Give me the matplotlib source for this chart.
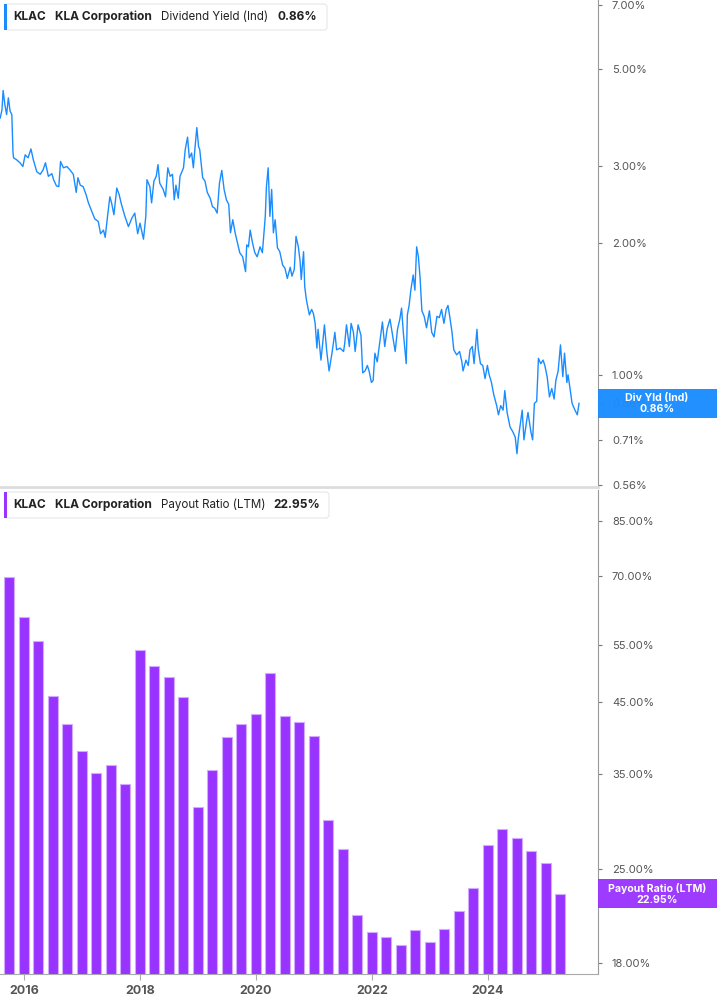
import matplotlib.pyplot as plt
import numpy as np
import pandas as pd
from matplotlib.patches import Rectangle, FancyBboxPatch
from matplotlib.ticker import FixedLocator, NullLocator
from matplotlib.transforms import IdentityTransform

plt.rcParams["font.family"] = ["Inter", "DejaVu Sans"]

# dividend yield (ind), % -- sampled off the chart, dates as decimal years
yield_years = [
    2015.59, 2015.62, 2015.64, 2015.67, 2015.70, 2015.73, 2015.76, 2015.79, 2015.81, 2015.82,
    2015.87, 2015.93, 2015.98, 2016.02, 2016.07, 2016.12, 2016.16, 2016.22, 2016.28, 2016.33,
    2016.37, 2016.42, 2016.48, 2016.51, 2016.56, 2016.60, 2016.63, 2016.68, 2016.74, 2016.79,
    2016.85, 2016.90, 2016.93, 2016.97, 2017.02, 2017.07, 2017.11, 2017.17, 2017.22, 2017.28,
    2017.32, 2017.37, 2017.40, 2017.44, 2017.48, 2017.51, 2017.55, 2017.60, 2017.64, 2017.68,
    2017.74, 2017.80, 2017.86, 2017.91, 2017.96, 2018.00, 2018.06, 2018.10, 2018.12, 2018.17,
    2018.20, 2018.24, 2018.28, 2018.31, 2018.34, 2018.40, 2018.44, 2018.48, 2018.52, 2018.56,
    2018.59, 2018.62, 2018.66, 2018.69, 2018.75, 2018.78, 2018.82, 2018.85, 2018.89, 2018.92,
    2018.95, 2018.98, 2019.01, 2019.03, 2019.08, 2019.12, 2019.16, 2019.21, 2019.25, 2019.29,
    2019.33, 2019.37, 2019.41, 2019.45, 2019.49, 2019.53, 2019.56, 2019.60, 2019.64, 2019.68,
    2019.72, 2019.77, 2019.82, 2019.84, 2019.87, 2019.90, 2019.94, 2019.98, 2020.02, 2020.07,
    2020.11, 2020.16, 2020.18, 2020.21, 2020.24, 2020.27, 2020.30, 2020.33, 2020.37, 2020.41,
    2020.46, 2020.50, 2020.54, 2020.59, 2020.62, 2020.66, 2020.69, 2020.73, 2020.76, 2020.78,
    2020.82, 2020.84, 2020.87, 2020.92, 2020.96, 2020.99, 2021.02, 2021.05, 2021.07, 2021.12,
    2021.15, 2021.18, 2021.22, 2021.26, 2021.31, 2021.36, 2021.39, 2021.45, 2021.51, 2021.53,
    2021.56, 2021.61, 2021.64, 2021.68, 2021.71, 2021.76, 2021.81, 2021.84, 2021.88, 2021.92,
    2021.95, 2021.99, 2022.02, 2022.05, 2022.09, 2022.14, 2022.18, 2022.22, 2022.26, 2022.31,
    2022.36, 2022.40, 2022.44, 2022.48, 2022.51, 2022.54, 2022.59, 2022.61, 2022.64, 2022.67,
    2022.71, 2022.74, 2022.77, 2022.80, 2022.83, 2022.86, 2022.90, 2022.94, 2022.99, 2023.03,
    2023.07, 2023.12, 2023.16, 2023.20, 2023.24, 2023.28, 2023.31, 2023.34, 2023.38, 2023.41,
    2023.46, 2023.51, 2023.55, 2023.57, 2023.62, 2023.66, 2023.69, 2023.73, 2023.76, 2023.81,
    2023.83, 2023.87, 2023.91, 2023.95, 2023.99, 2024.02, 2024.06, 2024.10, 2024.15, 2024.18,
    2024.22, 2024.26, 2024.29, 2024.33, 2024.38, 2024.43, 2024.47, 2024.50, 2024.52, 2024.55,
    2024.59, 2024.62, 2024.67, 2024.69, 2024.74, 2024.77, 2024.80, 2024.84, 2024.87, 2024.91,
    2024.95, 2024.98, 2025.02, 2025.06, 2025.10, 2025.14, 2025.17, 2025.21, 2025.25, 2025.29,
    2025.32, 2025.36, 2025.38, 2025.41, 2025.45, 2025.50, 2025.54, 2025.57,
]
yield_pct = [
    3.86, 4.03, 4.46, 4.14, 3.93, 4.29, 4.00, 3.93, 3.22, 3.13,
    3.10, 3.05, 2.99, 3.18, 3.13, 3.28, 3.10, 2.91, 2.87, 2.94,
    3.05, 2.84, 2.88, 2.79, 2.70, 2.69, 3.07, 2.97, 2.99, 2.94,
    2.87, 2.61, 2.82, 2.71, 2.69, 2.58, 2.47, 2.36, 2.27, 2.24,
    2.10, 2.14, 2.06, 2.30, 2.55, 2.47, 2.32, 2.67, 2.58, 2.45,
    2.30, 2.18, 2.28, 2.34, 2.10, 2.22, 2.04, 2.30, 2.79, 2.69,
    2.47, 2.77, 2.84, 3.02, 2.74, 2.65, 2.55, 2.97, 2.84, 2.87,
    2.51, 2.71, 2.53, 2.84, 2.97, 3.27, 3.49, 3.13, 3.21, 2.97,
    3.32, 3.67, 3.32, 3.27, 2.82, 2.77, 2.61, 2.53, 2.42, 2.40,
    2.34, 2.74, 2.93, 2.65, 2.51, 2.45, 2.11, 2.26, 2.11, 2.00,
    1.90, 1.86, 1.72, 1.98, 1.96, 2.14, 2.00, 1.90, 1.86, 1.96,
    1.90, 2.30, 2.69, 2.97, 2.30, 2.65, 2.11, 2.26, 1.95, 1.91,
    1.78, 1.75, 1.66, 1.76, 1.68, 1.74, 2.07, 1.96, 1.82, 1.65,
    1.91, 1.59, 1.48, 1.37, 1.41, 1.38, 1.31, 1.15, 1.27, 1.08,
    1.18, 1.30, 1.13, 1.02, 1.12, 1.25, 1.14, 1.15, 1.13, 1.18,
    1.30, 1.16, 1.31, 1.25, 1.13, 1.30, 1.23, 1.01, 1.02, 1.05,
    1.02, 0.96, 0.97, 1.12, 1.07, 1.20, 1.32, 1.16, 1.27, 1.34,
    1.22, 1.13, 1.27, 1.34, 1.42, 1.25, 1.06, 1.37, 1.44, 1.56,
    1.69, 1.56, 1.96, 1.86, 1.66, 1.40, 1.36, 1.28, 1.40, 1.25,
    1.22, 1.36, 1.35, 1.41, 1.31, 1.41, 1.44, 1.36, 1.25, 1.14,
    1.11, 1.13, 1.07, 1.02, 1.08, 1.05, 1.14, 1.16, 1.06, 1.27,
    1.15, 1.06, 1.05, 0.98, 1.05, 1.00, 0.96, 0.90, 0.85, 0.81,
    0.85, 0.83, 0.92, 0.82, 0.76, 0.74, 0.72, 0.66, 0.71, 0.76,
    0.83, 0.71, 0.79, 0.82, 0.74, 0.71, 0.86, 0.87, 1.09, 1.06,
    1.08, 1.05, 0.99, 0.89, 0.93, 0.88, 0.97, 1.02, 1.17, 0.99,
    1.12, 0.96, 1.00, 0.94, 0.86, 0.83, 0.81, 0.86,
]

# payout ratio (LTM), %, one bar per quarter
payout_quarters = pd.date_range("2015-09-30", periods=39, freq="QE")
payout_pct = [
    69.7, 60.6, 55.7, 45.9, 41.6, 37.9, 35.1, 36.1, 33.7, 54.0,
    51.0, 49.2, 45.8, 31.1, 35.5, 39.8, 41.7, 43.1, 49.8, 42.8,
    41.9, 39.9, 29.7, 26.9, 21.3, 20.1, 19.7, 19.2, 20.2, 19.4,
    20.3, 21.6, 23.4, 27.2, 28.8, 27.9, 26.7, 25.6, 22.95,
]

yield_ticks = [7.0, 5.0, 3.0, 2.0, 1.0, 0.86, 0.71, 0.56]
payout_ticks = [85.0, 70.0, 55.0, 45.0, 35.0, 25.0, 18.0]
year_ticks = [2016, 2018, 2020, 2022, 2024]

blue = "#1a8cff"
purple = "#9933ff"
grey_txt = "#555555"

W, H = 717, 1005
fig = plt.figure(figsize=(W / 100, H / 100), dpi=100)


def fx(px):
    return px / W


def fy(py):
    return 1 - py / H


ax1 = fig.add_axes([0, fy(487), fx(598), 487 / H])
ax2 = fig.add_axes([0, fy(974), fx(598), (974 - 490) / H])

bar_x = payout_quarters.year + (payout_quarters.dayofyear - 0.5) / 365.25

ax1.plot(yield_years, yield_pct, color=blue, lw=1.0)
ax2.bar(bar_x, payout_pct, width=0.172, color=purple,
        edgecolor="#d2aaff", linewidth=0.8)

for ax, ticks, lim in [(ax1, yield_ticks, (0.554, 7.18)),
                       (ax2, payout_ticks, (17.32, 94.7))]:
    ax.set_yscale("log")
    ax.set_ylim(*lim)
    ax.set_xlim(2015.586, 2025.897)
    ax.yaxis.tick_right()
    ax.yaxis.set_major_locator(FixedLocator(ticks))
    ax.yaxis.set_minor_locator(NullLocator())
    ax.set_yticklabels([f"{t:.2f}%" for t in ticks])
    ax.tick_params(axis="y", length=3, width=0.8, color="#777777",
                   labelsize=8, labelcolor=grey_txt, pad=7)
    ax.spines["left"].set_visible(False)
    ax.spines["top"].set_visible(False)
    ax.spines["right"].set_color("#999999")
    ax.set_facecolor("none")

ax1.spines["bottom"].set_color("#dddddd")
ax1.spines["bottom"].set_linewidth(2)
ax1.set_xticks([])
ax2.spines["bottom"].set_color("#aaaaaa")
ax2.set_xticks(year_ticks)
ax2.set_xticklabels([str(y) for y in year_ticks], fontweight="bold")
ax2.xaxis.set_minor_locator(NullLocator())
ax2.tick_params(axis="x", length=4, width=0.8, color="#aaaaaa",
                labelsize=9, labelcolor=grey_txt, pad=4)


# last-value boxes on the right axis
def value_box(ax, val, color, text):
    y = ax.transData.transform((2020, val))[1]
    h = 29
    fig.patches.append(Rectangle((598, y - h / 2), 119, h, transform=IdentityTransform(),
                                 facecolor=color, edgecolor="none", alpha=0.96, zorder=5))
    fig.text(fx(657), y / H, text, ha="center", va="center", color="white",
             fontsize=7.6, fontweight="bold", linespacing=1.05, zorder=6)


value_box(ax1, yield_pct[-1], blue, "Div Yld (Ind)\n0.86%")
value_box(ax2, payout_pct[-1], purple, "Payout Ratio (LTM)\n22.95%")


# legend headers at top left of each panel
def header(top, right, color, metric, value, value_x):
    fig.patches.append(FancyBboxPatch((5, H - top - 26), right - 5, 26,
                                      boxstyle="round,pad=0,rounding_size=3",
                                      transform=IdentityTransform(),
                                      facecolor="white", edgecolor="#e6e6e6", lw=0.8, zorder=5))
    fig.patches.append(Rectangle((4, H - top - 26), 3, 26, transform=IdentityTransform(),
                                 facecolor=color, edgecolor="none", zorder=6))
    yc = fy(top + 13)
    kw = dict(va="center", color="#222222", zorder=7)
    fig.text(fx(13), yc, "KLAC", fontweight="bold", fontsize=8.6, **kw)
    fig.text(fx(55), yc, "KLA Corporation", fontweight="bold", fontsize=8.6, **kw)
    fig.text(fx(161), yc, metric, fontsize=8.3, **kw)
    fig.text(fx(value_x), yc, value, fontweight="bold", fontsize=8.6, **kw)


header(4, 327, blue, "Dividend Yield (Ind)", "0.86%", 277)
header(492, 329, purple, "Payout Ratio (LTM)", "22.95%", 273)

fig.savefig("out.png", dpi=100)
